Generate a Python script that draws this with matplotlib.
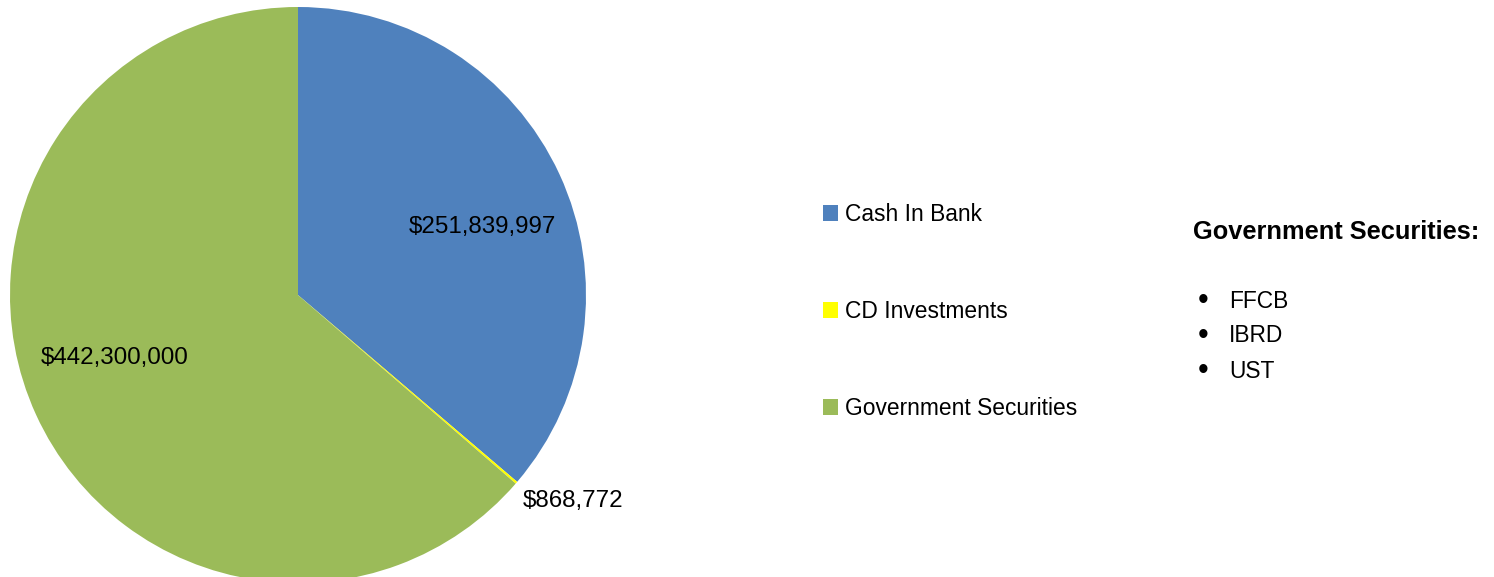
import matplotlib.pyplot as plt
from matplotlib.patches import Patch

plt.rcParams['font.family'] = ['Liberation Sans', 'DejaVu Sans']

# data
categories = ["Cash In Bank", "CD Investments", "Government Securities"]
amounts = [251839997, 868772, 442300000]
value_labels = ["$251,839,997", "$868,772", "$442,300,000"]
colors = ["#4F81BD", "#FFFF00", "#9BBB59"]
gov_items = ["FFCB", "IBRD", "UST"]

W, H = 1494, 577
fig = plt.figure(figsize=(W / 100, H / 100), dpi=100)

# pie axes: centre ~ (298, 295) px, radius ~ 288 px
cx, cy, r = 298, 295, 288
ax = fig.add_axes([(cx - r) / W, (H - cy - r) / H, 2 * r / W, 2 * r / H])
wedges, _ = ax.pie(amounts, colors=colors, startangle=90, counterclock=False,
                   radius=1.0, wedgeprops=dict(linewidth=0))
ax.set_xlim(-1, 1)
ax.set_ylim(-1, 1)
ax.set_aspect('equal')
ax.axis('off')
for w in wedges:
    w.set_clip_on(False)

# value labels
ax.text(0.64, 0.235, value_labels[0], ha='center', va='center', fontsize=17.4)
ax.text(0.955, -0.715, value_labels[1], ha='center', va='center', fontsize=17.4)
ax.text(-0.635, -0.22, value_labels[2], ha='center', va='center', fontsize=17.4)

# legend
handles = [Patch(facecolor=c, edgecolor='none') for c in colors]
fig.legend(handles, categories, loc='upper left',
           bbox_to_anchor=(823 / W, 1 - 203 / H), frameon=False,
           fontsize=16.4, labelspacing=3.25, handlelength=0.68,
           handleheight=0.68, handletextpad=0.3, borderpad=0,
           borderaxespad=0)

# side note
fig.text(1193 / W, 1 - 232 / H, "Government Securities:", fontsize=18.3,
         fontweight='bold', ha='left', va='center')
for i, item in enumerate(gov_items):
    y = 1 - (301 + 35 * i) / H
    fig.text(1203 / W, y, "\u2022", fontsize=22, ha='center', va='center')
    fig.text(1229 / W, y, item, fontsize=16.4, ha='left', va='center')

fig.savefig('out.png', dpi=100)
